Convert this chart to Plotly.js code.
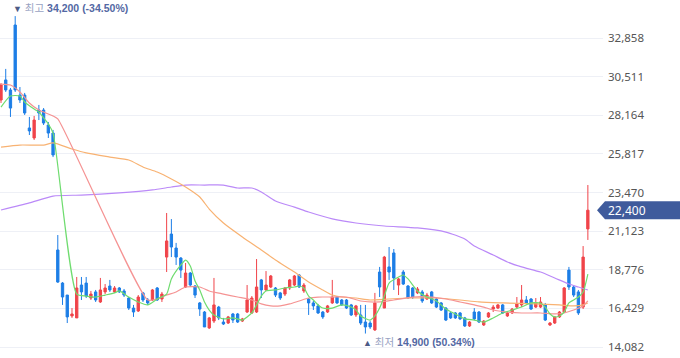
<!DOCTYPE html>
<html><head><meta charset="utf-8">
<script src="https://cdn.plot.ly/plotly-3.0.1.min.js"></script>
<style>html,body{margin:0;padding:0;background:#fff}#chart{width:680px;height:358px}</style>
</head><body><div id="chart"></div>
<script>
// Daily OHLC (KRW)
const openP  = [29100,30320,29710,33660,29400,29400,27400,26790,28490,28490,27580,27090,19980,17970,17240,15970,15850,17850,17970,17060,17430,16820,17430,17790,17430,17670,17490,17060,16450,16270,17370,16940,16940,17670,17000,19550,20950,20100,19490,17730,18580,17790,16760,16210,15240,15660,16510,15600,15540,16090,16090,15660,16210,16150,16210,18160,17550,17730,17670,17370,17300,17670,17850,18460,17490,17000,16760,16580,16210,16210,16760,17120,16940,16940,16640,16030,16030,15600,15540,15120,18640,16450,18950,19800,17850,18640,17790,17670,17370,17430,17000,17430,17000,16760,16450,16150,16150,16150,15850,15360,16210,16210,15420,15910,16390,16450,16640,15970,16150,16510,16640,16940,17000,16510,16510,16640,15420,15540,15910,16210,18760,17730,17430,16510,21260];
const highP  = [30130,30990,29830,34200,29890,29530,28070,28130,28800,28610,27760,27280,20890,18030,17240,16450,18340,18340,18340,17490,17550,18280,17910,18160,17790,17730,17610,17120,16640,17240,17430,17060,17610,17730,17430,22230,21860,20410,19550,19190,18640,17850,16820,16270,15910,18280,16580,15850,15970,16150,16150,15850,17850,17180,19430,18220,18700,18460,17730,17430,17730,18220,18460,18520,17970,17060,16880,16700,16270,16640,18160,17180,17000,17000,16700,16640,16640,16640,15660,17370,18950,19620,20160,20040,18280,18760,17850,17730,17730,17550,17370,17490,17060,16820,16510,16210,16210,16210,15910,15660,16450,16270,15720,16210,16640,16700,16700,16210,16450,17120,17850,17180,17060,17060,17120,16760,15600,15970,16270,17730,18950,17850,17550,20220,23930];
const lowP   = [28920,29590,28070,29590,28920,28190,26970,26670,27880,27580,26790,25630,17980,16640,15540,15850,15850,16940,17060,16940,16820,16760,17300,17430,17370,17370,17120,16330,15910,16210,16820,16640,16880,16880,16820,18640,19550,19070,18280,17670,17730,17060,15970,15300,15180,15540,15720,15420,15480,15540,15540,15600,16150,16090,16150,17060,17490,17670,17120,16940,17180,17550,17790,17670,17370,16030,16330,16090,15790,16150,16700,16700,16580,16390,15970,15910,15420,14900,15180,15060,17120,16450,18160,17550,17240,17850,17000,17000,17300,16760,16940,16700,16450,16270,15660,15790,15790,15720,15300,15300,15720,15540,15360,15850,16210,16390,16090,15910,16090,16450,16510,16700,16330,16450,16450,15660,15360,15480,15850,16150,17550,17120,16030,16390,20590];
const closeP = [30010,29710,28610,29710,29100,28310,27220,27880,28310,27700,27090,25760,18030,17120,15910,16090,17670,17430,17180,17300,16940,17550,17670,17550,17670,17430,17240,16450,16210,17120,16940,16760,17550,16940,17300,20530,20160,19550,18760,18580,17850,17240,16390,15300,15850,16640,15850,15480,15910,15720,15600,15790,16940,17060,17730,17550,17850,18400,17240,17060,17670,18160,18400,17730,17850,16760,16580,16150,15910,16580,17120,16760,16640,16450,16030,16580,15540,15300,15300,16760,17730,19550,18640,18280,18220,17910,17060,17120,17610,16880,17240,16760,16510,16330,15720,15850,15850,15790,15360,15600,15790,15600,15660,16150,16510,16640,16150,16150,16390,16700,16940,16760,16390,16760,16820,15720,15540,15910,16210,17670,17730,17240,16150,19550,22400];

// Moving averages: [candle index], [value]
const ma5Idx = [0,2,4,5,7,8,9,10,11,16,18,20,22,24,25,27,29,31,33,35,36,38,39,40,41,42,43,44,45,47,49,51,52,53,54,55,56,58,60,62,63,64,65,66,67,68,70,72,74,75,76,78,79,80,81,82,84,85,86,88,90,92,94,96,98,100,102,104,106,108,110,112,114,115,116,117,118,119,120,121,122,123,124];
const ma5Val = [28670,29340,29340,28980,28550,28370,28010,27640,27090,17300,17180,17120,17240,17370,17490,17120,16820,16640,17000,17300,18220,19070,19370,19010,18100,17550,16820,16330,16030,15790,15850,15720,15910,16150,16640,17180,17490,17550,17670,17730,17790,17670,17180,16940,16640,16450,16450,16640,16510,16330,15970,15720,15970,16450,17180,17970,18340,18460,18220,17490,17120,16880,16390,16090,15790,15720,15600,15850,16150,16330,16510,16760,16760,16510,16090,15910,15970,16210,16760,16940,17120,17430,18520];
const ma20Idx = [0,2,4,6,8,10,11,12,31,33,35,37,39,42,44,47,50,53,55,57,59,61,63,65,67,70,73,76,80,83,87,91,94,97,100,102,104,107,110,114,117,119,121,123,124];
const ma20Val = [30070,30010,29590,28920,28490,28250,28130,27950,16940,17000,17240,17430,17730,17730,17490,17300,17120,16940,16700,16580,16580,16700,16880,17060,17120,17120,17120,16880,16820,16940,17120,17120,17000,16820,16640,16510,16330,16210,16150,16150,16090,16150,16330,16580,16880];
const ma60Idx = [0,4,9,11,15,18,23,27,30,33,36,39,42,44,47,51,55,58,62,65,68,70,72,75,78,82,87,92,97,101,106,113,118,121,123,124];
const ma60Val = [26240,26360,26360,26490,26120,25880,25630,25450,25030,24720,24300,23810,23200,22470,21620,20770,19980,19370,18640,18030,17550,17240,17120,17060,16940,17000,17060,17060,16940,16820,16760,16700,16640,16580,16640,16760];
const ma120Idx = [0,6,11,17,25,32,36,39,43,47,50,53,55,58,62,65,70,75,81,88,94,98,100,104,107,110,114,117,120,122,124];
const ma120Val = [22410,22840,23260,23320,23450,23630,23810,23930,23930,23930,23750,23750,23510,22960,22590,22290,21870,21620,21440,21320,21070,20650,20220,19680,19250,18950,18640,18280,17910,17730,17550];

const yTicks = [14082,16429,18776,21123,23470,25817,28164,30511,32858];

const idx = openP.map((_, i) => i);
const fmt = v => v.toLocaleString('en-US');
const maxH = Math.max(...highP), minL = Math.min(...lowP);
const iMax = highP.indexOf(maxH), iMin = lowP.indexOf(minL);
const lastC = closeP[closeP.length - 1];
const pctHi = ((lastC - maxH) / maxH * 100).toFixed(2);
const pctLo = ((lastC - minL) / minL * 100).toFixed(2);

const lineTrace = (x, y, color) => ({type:'scatter', mode:'lines', x, y, hoverinfo:'skip',
  line:{color, width:1.2, shape:'spline', smoothing:0.6}});

const traces = [
  lineTrace(ma120Idx, ma120Val, '#bb8af8'),
  lineTrace(ma60Idx, ma60Val, '#f8b272'),
  lineTrace(ma20Idx, ma20Val, '#f59393'),
  lineTrace(ma5Idx, ma5Val, '#6fdc6f'),
  {type:'candlestick', x: idx, open: openP, high: highP, low: lowP, close: closeP,
   increasing:{line:{color:'#f0444a', width:1}, fillcolor:'#f0444a'},
   decreasing:{line:{color:'#1d7ee6', width:1}, fillcolor:'#1d7ee6'},
   whiskerwidth:0, hoverinfo:'skip'}
];

const fam = 'Noto Sans, Noto Sans CJK KR, sans-serif';
const famA = 'Liberation Sans, Noto Sans CJK KR, sans-serif';
const tri = s => '<span style="font-size:9px;color:#4d5a86">' + s + '</span>';
const kor = s => '<span style="font-family:Noto Sans CJK KR;color:#98a2c2">' + s + '</span>';
const layout = {
  width:680, height:358, margin:{l:0, r:77, t:0, b:0},
  paper_bgcolor:'#fff', plot_bgcolor:'#fff', showlegend:false, hovermode:false,
  xaxis:{range:[-0.211, 127.2], visible:false, rangeslider:{visible:false}, fixedrange:true},
  yaxis:{side:'right', range:[13413, 35180], tickvals:yTicks, ticktext:yTicks.map(fmt),
    showgrid:true, gridcolor:'#eef0f6', gridwidth:1, zeroline:false, showline:false, ticks:'',
    ticklabelstandoff:4, tickfont:{family:fam, size:11.5, color:'#555'}, fixedrange:true},
  shapes:[{type:'path', xref:'paper', yref:'y', xsizemode:'pixel', ysizemode:'pixel',
    xanchor:1, yanchor:lastC, path:'M-6,0L2,9L80,9L80,-9L2,-9Z',
    fillcolor:'#3f5b9c', line:{width:0}, layer:'above'}],
  annotations:[
    {x:iMax, y:maxH, xref:'x', yref:'y', xanchor:'left', yanchor:'bottom', xshift:-4, yshift:-1, showarrow:false,
     font:{family:famA, size:10.5, color:'#5368a3'},
     text: tri('▼') + ' ' + kor('최고') + ' <b>' + fmt(maxH) + ' (' + pctHi + '%)</b>'},
    {x:iMin, y:minL, xref:'x', yref:'y', xanchor:'left', yanchor:'top', xshift:-4, yshift:2, showarrow:false,
     font:{family:famA, size:10.5, color:'#5368a3'},
     text: tri('▲') + ' ' + kor('최저') + ' <b>' + fmt(minL) + ' (' + pctLo + '%)</b>'},
    {x:1, y:lastC, xref:'paper', yref:'y', xanchor:'left', yanchor:'middle', xshift:3, showarrow:false,
     font:{family:fam, size:12, color:'#ffffff'}, text:fmt(lastC)}
  ]
};
Plotly.newPlot('chart', traces, layout, {displayModeBar:false, staticPlot:true});
</script></body></html>
